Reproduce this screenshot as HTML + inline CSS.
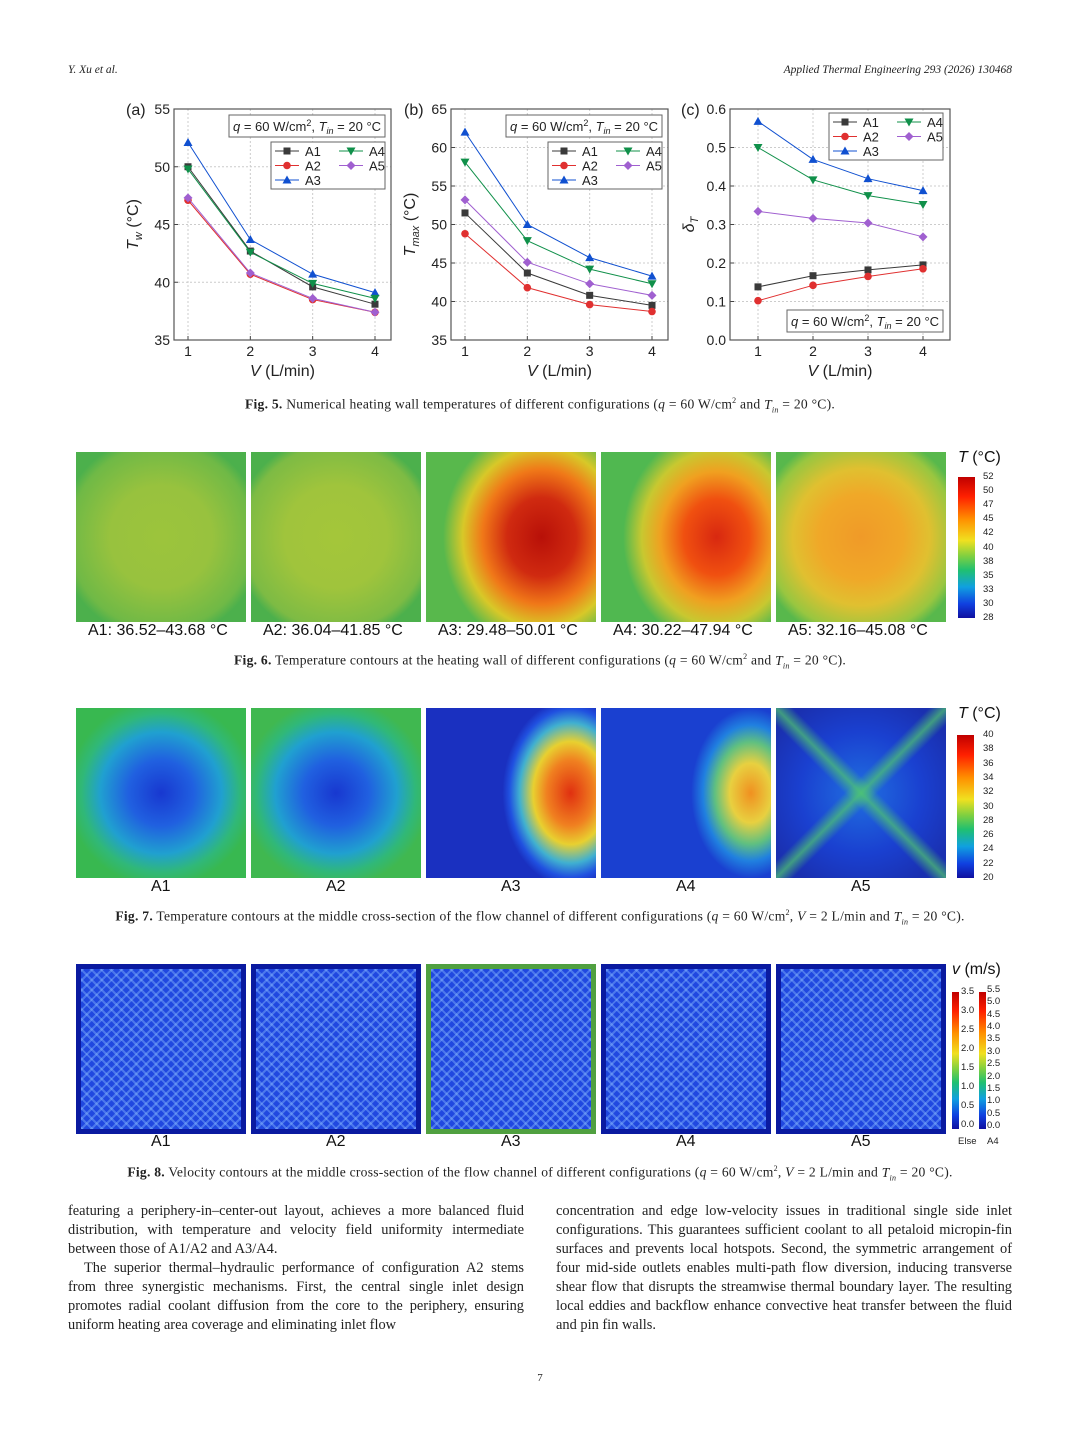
<!DOCTYPE html>
<html><head><meta charset="utf-8">
<style>
body{margin:0;background:#fff;}
#page{position:relative;width:1080px;height:1440px;background:#fff;font-family:"Liberation Serif",serif;color:#222;overflow:hidden;}
.abs{position:absolute;}
.hdr{font-size:11.5px;font-style:italic;top:64px;}
.cap{font-size:13.6px;left:0;width:1080px;text-align:center;letter-spacing:0.25px;}
.panel{position:absolute;width:170px;height:170px;}
.plab{position:absolute;font-family:"Liberation Sans",sans-serif;font-size:16px;color:#111;}
.cb{position:absolute;width:17px;background:linear-gradient(to bottom,#c00000,#ff2000 14%,#ff9000 30%,#f0e020 45%,#80d040 56%,#20c070 66%,#10a0e0 78%,#1040e0 90%,#1010a0);}
.cbt{position:absolute;font-family:"Liberation Sans",sans-serif;font-size:9.5px;color:#222;}
.col{position:absolute;top:1202px;width:456px;font-size:14.4px;line-height:19px;text-align:justify;}
.col p{margin:0;}
.vel{background:
 repeating-linear-gradient(45deg,rgba(140,190,255,.4) 0 2px,transparent 2px 7px),
 repeating-linear-gradient(-45deg,rgba(140,190,255,.4) 0 2px,transparent 2px 7px),
 #2048e0;box-shadow:inset 0 0 0 5px #0a1aa0;}
</style></head><body>
<div id="page">
<div class="abs hdr" style="left:68px">Y. Xu et al.</div>
<div class="abs hdr" style="right:68px">Applied Thermal Engineering 293 (2026) 130468</div>

<svg id="charts" class="abs" style="left:0;top:90px" width="1080" height="300"></svg>
<div class="abs cap" style="top:396px"><b>Fig. 5.</b> Numerical heating wall temperatures of different configurations (<i>q</i> = 60 W/cm<sup style="font-size:8px">2</sup> and <i>T<sub style="font-size:8px">in</sub></i> = 20 °C).</div>

<!-- Fig 6 -->
<div class="panel" style="left:76px;top:452px;background:radial-gradient(ellipse 60% 60% at 50% 50%,#9cc43c,#98c23e 50%,#6fb946 90%,#4cb04c)"></div>
<div class="panel" style="left:251px;top:452px;background:radial-gradient(ellipse 60% 60% at 50% 50%,#a4c63a,#a0c43c 50%,#7dbb44 90%,#4cb04c)"></div>
<div class="panel" style="left:426px;top:452px;background:radial-gradient(ellipse 58% 66% at 68% 50%,#b81008,#d02a10 35%,#f07818 60%,#d8c828 80%,#58b84c 100%)"></div>
<div class="panel" style="left:601px;top:452px;background:radial-gradient(ellipse 55% 64% at 68% 50%,#d82810,#f05010 35%,#f0a020 60%,#c8c830 80%,#50b850 100%)"></div>
<div class="panel" style="left:776px;top:452px;background:radial-gradient(ellipse 62% 62% at 50% 50%,#f09a28,#f0a828 40%,#e0c030 65%,#98c640 90%,#58b84c)"></div>
<div class="plab" style="left:88px;top:622px">A1: 36.52–43.68 °C</div>
<div class="plab" style="left:263px;top:622px">A2: 36.04–41.85 °C</div>
<div class="plab" style="left:438px;top:622px">A3: 29.48–50.01 °C</div>
<div class="plab" style="left:613px;top:622px">A4: 30.22–47.94 °C</div>
<div class="plab" style="left:788px;top:622px">A5: 32.16–45.08 °C</div>
<div class="plab" style="left:958px;top:449px"><i>T</i> (°C)</div>
<div class="cb" style="left:958px;top:477px;height:141px"></div>
<div id="cb6"></div>
<div class="abs cap" style="top:652px"><b>Fig. 6.</b> Temperature contours at the heating wall of different configurations (<i>q</i> = 60 W/cm<sup style="font-size:8px">2</sup> and <i>T<sub style="font-size:8px">in</sub></i> = 20 °C).</div>

<!-- Fig 7 -->
<div class="panel" style="left:76px;top:708px;background:radial-gradient(ellipse 55% 55% at 50% 50%,#1838d0,#2060e0 35%,#20a0d0 65%,#30b878 85%,#38b850)"></div>
<div class="panel" style="left:251px;top:708px;background:radial-gradient(ellipse 55% 55% at 50% 50%,#1838d0,#2060e0 35%,#20a0d0 65%,#30b878 85%,#40b850)"></div>
<div class="panel" style="left:426px;top:708px;background:radial-gradient(ellipse 40% 55% at 85% 50%,#e03010,#f08020 35%,#e8d030 55%,#40b0d0 75%,#2050e0 90%,#1a30c0)"></div>
<div class="panel" style="left:601px;top:708px;background:radial-gradient(ellipse 35% 50% at 88% 50%,#f09020,#e8d040 35%,#60c080 60%,#2080e0 80%,#1a40d0)"></div>
<div class="panel" style="left:776px;top:708px;background:
 linear-gradient(45deg,transparent 45%,rgba(80,200,110,.7) 50%,transparent 55%),
 linear-gradient(-45deg,transparent 45%,rgba(80,200,110,.7) 50%,transparent 55%),
 radial-gradient(ellipse 60% 60% at 50% 50%,#2070e0,#1a40d0 60%,#1a30b0)"></div>
<div class="plab" style="left:151px;top:878px">A1</div>
<div class="plab" style="left:326px;top:878px">A2</div>
<div class="plab" style="left:501px;top:878px">A3</div>
<div class="plab" style="left:676px;top:878px">A4</div>
<div class="plab" style="left:851px;top:878px">A5</div>
<div class="plab" style="left:958px;top:705px"><i>T</i> (°C)</div>
<div class="cb" style="left:957px;top:735px;height:143px"></div>
<div id="cb7"></div>
<div class="abs cap" style="top:908px"><b>Fig. 7.</b> Temperature contours at the middle cross-section of the flow channel of different configurations (<i>q</i> = 60 W/cm<sup style="font-size:8px">2</sup>, <i>V</i> = 2 L/min and <i>T<sub style="font-size:8px">in</sub></i> = 20 °C).</div>

<!-- Fig 8 -->
<div class="panel vel" style="left:76px;top:964px"></div>
<div class="panel vel" style="left:251px;top:964px"></div>
<div class="panel vel" style="left:426px;top:964px;box-shadow:inset 0 0 0 5px #50a040"></div>
<div class="panel vel" style="left:601px;top:964px"></div>
<div class="panel vel" style="left:776px;top:964px"></div>
<div class="plab" style="left:151px;top:1133px">A1</div>
<div class="plab" style="left:326px;top:1133px">A2</div>
<div class="plab" style="left:501px;top:1133px">A3</div>
<div class="plab" style="left:676px;top:1133px">A4</div>
<div class="plab" style="left:851px;top:1133px">A5</div>
<div class="plab" style="left:952px;top:961px"><i>v</i> (m/s)</div>
<div class="cb" style="left:952px;top:992px;height:137px;width:7px"></div>
<div class="cb" style="left:979px;top:992px;height:137px;width:7px"></div>
<div id="cb8"></div>
<div class="cbt" style="left:958px;top:1136px">Else</div>
<div class="cbt" style="left:987px;top:1136px">A4</div>
<div class="abs cap" style="top:1164px"><b>Fig. 8.</b> Velocity contours at the middle cross-section of the flow channel of different configurations (<i>q</i> = 60 W/cm<sup style="font-size:8px">2</sup>, <i>V</i> = 2 L/min and <i>T<sub style="font-size:8px">in</sub></i> = 20 °C).</div>

<div class="col" style="left:68px">
<p>featuring a periphery-in–center-out layout, achieves a more balanced fluid distribution, with temperature and velocity field uniformity in­termediate between those of A1/A2 and A3/A4.</p>
<p style="text-indent:16px">The superior thermal–hydraulic performance of configuration A2 stems from three synergistic mechanisms. First, the central single inlet design promotes radial coolant diffusion from the core to the periphery, ensuring uniform heating area coverage and eliminating inlet flow</p>
</div>
<div class="col" style="left:556px">
<p>concentration and edge low-velocity issues in traditional single side inlet configurations. This guarantees sufficient coolant to all petaloid micropin-fin surfaces and prevents local hotspots. Second, the sym­metric arrangement of four mid-side outlets enables multi-path flow diversion, inducing transverse shear flow that disrupts the streamwise thermal boundary layer. The resulting local eddies and backflow enhance convective heat transfer between the fluid and pin fin walls.</p>
</div>
<div class="abs" style="left:0;width:1080px;text-align:center;top:1372px;font-size:11px">7</div>
</div>

<script>
const xs=[1,2,3,4];
const names=["A1","A2","A3","A4","A5"];
const colors=["#3a3a3a","#e03030","#1050d0","#10904a","#a060d0"];
const tw_A1=[50.0,42.7,39.6,38.1], tw_A2=[47.1,40.7,38.5,37.4], tw_A3=[52.1,43.7,40.7,39.1], tw_A4=[49.8,42.6,39.9,38.6], tw_A5=[47.3,40.8,38.6,37.4];
const tm_A1=[51.5,43.7,40.8,39.5], tm_A2=[48.8,41.8,39.6,38.7], tm_A3=[62.0,50.0,45.7,43.3], tm_A4=[58.1,47.9,44.2,42.3], tm_A5=[53.2,45.1,42.3,40.8];
const dt_A1=[0.138,0.167,0.182,0.195], dt_A2=[0.102,0.142,0.165,0.185], dt_A3=[0.568,0.469,0.419,0.388], dt_A4=[0.500,0.416,0.375,0.352], dt_A5=[0.334,0.316,0.304,0.268];
const ticksA=[35,40,45,50,55], ticksB=[35,40,45,50,55,60,65], ticksC=[0.0,0.1,0.2,0.3,0.4,0.5,0.6];
const cb6Ticks=["52","50","47","45","42","40","38","35","33","30","28"];
const cb7Ticks=["40","38","36","34","32","30","28","26","24","22","20"];
const cb8Else=["3.5","3.0","2.5","2.0","1.5","1.0","0.5","0.0"];
const cb8A4=["5.5","5.0","4.5","4.0","3.5","3.0","2.5","2.0","1.5","1.0","0.5","0.0"];

const NS="http://www.w3.org/2000/svg";
const svg=document.getElementById("charts");
function el(t,a,p){const e=document.createElementNS(NS,t);for(const k in a)e.setAttribute(k,a[k]);(p||svg).appendChild(e);return e;}
function marker(g,i,x,y,c){
  let m;
  if(i===0) m=el("rect",{x:x-3.5,y:y-3.5,width:7,height:7,fill:c},g);
  else if(i===1) m=el("circle",{cx:x,cy:y,r:3.8,fill:c},g);
  else if(i===2) m=el("polygon",{points:`${x},${y-4.5} ${x+4.5},${y+3.5} ${x-4.5},${y+3.5}`,fill:c},g);
  else if(i===3) m=el("polygon",{points:`${x},${y+4.5} ${x+4.5},${y-3.5} ${x-4.5},${y-3.5}`,fill:c},g);
  else m=el("polygon",{points:`${x},${y-4.5} ${x+4.5},${y} ${x},${y+4.5} ${x-4.5},${y}`,fill:c},g);
  
  
}
function chart(o){
  const g=el("g",{});
  
  
  const L=o.L,R=o.R,T=19,B=250;
  const xp=v=>o.x1+(v-1)*(o.x4-o.x1)/3;
  const yp=v=>B-(v-o.ymin)*(B-T)/(o.ymax-o.ymin);
  o.ticks.forEach(t=>{const y=yp(t);
    if(t!==o.ymin&&t!==o.ymax) el("line",{x1:L,x2:R,y1:y,y2:y,stroke:"#ccc","stroke-dasharray":"2,2"},g);
    el("line",{x1:L,x2:L+4,y1:y,y2:y,stroke:"#444"},g);
    const tx=el("text",{x:L-4,y:y+5,"text-anchor":"end","font-size":14,"font-family":"Liberation Sans, sans-serif",fill:"#222"},g);tx.textContent=o.fmt(t);
  });
  xs.forEach(v=>{const x=xp(v);
    el("line",{x1:x,x2:x,y1:T,y2:B,stroke:"#ccc","stroke-dasharray":"2,2"},g);
    el("line",{x1:x,x2:x,y1:B,y2:B-4,stroke:"#444"},g);
    const tx=el("text",{x:x,y:B+16,"text-anchor":"middle","font-size":14,"font-family":"Liberation Sans, sans-serif",fill:"#222"},g);tx.textContent=v;
  });
  el("rect",{x:L,y:T,width:R-L,height:B-T,fill:"none",stroke:"#555","stroke-width":1.2},g);
  o.data.forEach((d,i)=>{
    const pl=el("polyline",{points:d.map((v,j)=>xp(xs[j])+","+yp(v)).join(" "),fill:"none",stroke:colors[i],"stroke-width":1},g);
    
    
    d.forEach((v,j)=>marker(g,i,xp(xs[j]),yp(v),colors[i]));
  });
  const xl=el("text",{x:(L+R)/2,y:B+36,"text-anchor":"middle","font-size":16,"font-family":"Liberation Sans, sans-serif",fill:"#222"},g);
  xl.innerHTML='<tspan font-style="italic">V</tspan> (L/min)';
  const pl=el("text",{x:o.plx,y:T+6,"font-size":16,"font-family":"Liberation Sans, sans-serif",fill:"#222"},g);pl.textContent=o.pl;
  const yl=el("text",{transform:`translate(${L-36},${(T+B)/2}) rotate(-90)`,"text-anchor":"middle","font-size":16,"font-family":"Liberation Sans, sans-serif",fill:"#222"},g);yl.innerHTML=o.yl;
  const bx=o.ann[0],by=o.ann[1];
  el("rect",{x:bx,y:by,width:156,height:22,fill:"#fff",stroke:"#666"},g);
  const at=el("text",{x:bx+4,y:by+16,"font-size":13,"font-family":"Liberation Sans, sans-serif",fill:"#222"},g);
  at.innerHTML='<tspan font-style="italic">q</tspan> = 60 W/cm<tspan dy="-5" font-size="9">2</tspan><tspan dy="5">, </tspan><tspan font-style="italic">T</tspan><tspan dy="3" font-size="9" font-style="italic">in</tspan><tspan dy="-3"> = 20 °C</tspan>';
  const lx=o.leg[0],ly=o.leg[1];
  el("rect",{x:lx,y:ly,width:114,height:47,fill:"#fff",stroke:"#666"},g);
  names.forEach((n,i)=>{const cx=lx+4+(i>=3?64:0);
    const yy=i>=3?ly+9+(i-3)*14.5:ly+9+i*14.5;
    el("line",{x1:cx,x2:cx+24,y1:yy,y2:yy,stroke:colors[i]},g);
    marker(g,i,cx+12,yy,colors[i]);
    const t=el("text",{x:cx+30,y:yy+5,"font-size":13,"font-family":"Liberation Sans, sans-serif",fill:"#222"},g);t.textContent=n;
  });
}
chart({name:"chart-a-tw",L:174,R:391,x1:188,x4:375,ymin:35,ymax:55,ticks:ticksA,fmt:v=>v,data:[tw_A1,tw_A2,tw_A3,tw_A4,tw_A5],pl:"(a)",plx:126,yl:'<tspan font-style="italic">T</tspan><tspan dy="4" font-size="11" font-style="italic">w</tspan><tspan dy="-4"> (°C)</tspan>',ann:[229,25],leg:[271,52]});
chart({name:"chart-b-tmax",L:451,R:668,x1:465,x4:652,ymin:35,ymax:65,ticks:ticksB,fmt:v=>v,data:[tm_A1,tm_A2,tm_A3,tm_A4,tm_A5],pl:"(b)",plx:404,yl:'<tspan font-style="italic">T</tspan><tspan dy="4" font-size="11" font-style="italic">max</tspan><tspan dy="-4"> (°C)</tspan>',ann:[506,25],leg:[548,52]});
chart({name:"chart-c-delta",L:730,R:950,x1:758,x4:923,ymin:0,ymax:0.6,ticks:ticksC,fmt:v=>v.toFixed(1),data:[dt_A1,dt_A2,dt_A3,dt_A4,dt_A5],pl:"(c)",plx:681,yl:'<tspan font-style="italic">δ</tspan><tspan dy="4" font-size="11" font-style="italic">T</tspan>',ann:[787,220],leg:[829,23]});

function cbTicks(id,arr,left,top,h){
  const c=document.getElementById(id);
  arr.forEach((t,i)=>{const d=document.createElement("div");d.className="cbt";
    
    
    d.style.left=left+"px";d.style.top=(top+i*h/(arr.length-1)-6)+"px";d.textContent=t;c.appendChild(d);});
}
cbTicks("cb6",cb6Ticks,983,477,141);
cbTicks("cb7",cb7Ticks,983,735,143);
cbTicks("cb8",cb8Else,961,992,133);
cbTicks("cb8",cb8A4,987,990,136);
</script>
</body></html>
